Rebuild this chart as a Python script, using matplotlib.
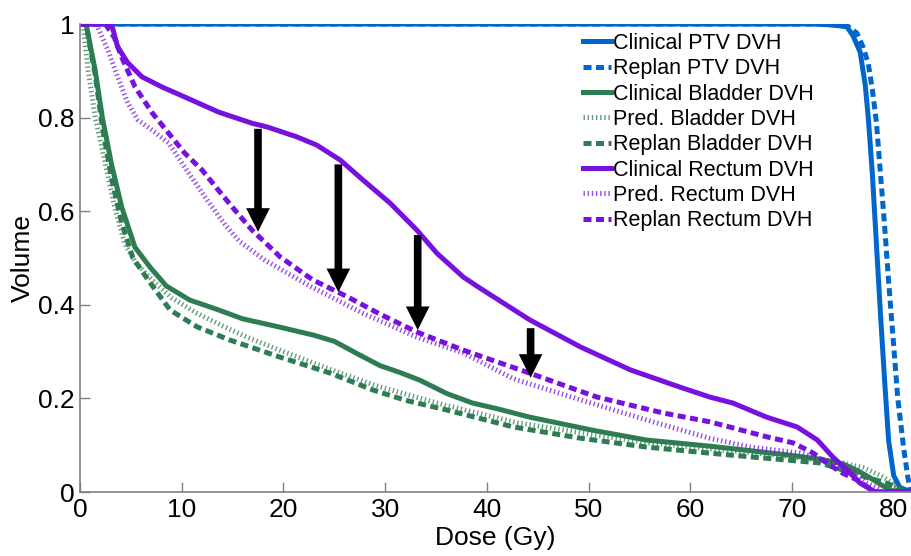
import matplotlib
matplotlib.use("Agg")
import matplotlib.pyplot as plt

ptv_clin_dose = [0, 72, 74, 75.4, 76.0, 76.7, 77.2, 77.5, 77.9, 78.3, 78.7, 79.1, 79.5, 80.0, 80.6, 81.7]
ptv_clin_vol = [1, 1, 0.998, 0.994, 0.975, 0.94, 0.87, 0.80, 0.68, 0.53, 0.38, 0.24, 0.11, 0.035, 0.01, 0]

ptv_replan_dose = [0, 73, 75.5, 76.4, 77.0, 77.5, 77.9, 78.3, 78.7, 79.1, 79.5, 79.9, 80.4, 81.0, 81.4, 81.7]
ptv_replan_vol = [1, 1, 0.995, 0.98, 0.95, 0.915, 0.86, 0.79, 0.68, 0.57, 0.45, 0.34, 0.20, 0.09, 0.03, 0]

bl_clin_dose = [0, 0.6, 1.5, 2.2, 3.1, 4.1, 5.4, 6.9, 8.5, 10.8, 13.5, 16.0, 19.7, 23.0, 25.0, 27.3,
                29.5, 31.5, 33.4, 36.1, 38.6, 41, 44.2, 50.4, 55.7, 61.9, 66, 70, 72.8, 75, 76.5,
                77.7, 78.8, 79.8, 81.7]
bl_clin_vol = [1, 1, 0.9, 0.80, 0.70, 0.609, 0.523, 0.48, 0.44, 0.41, 0.39, 0.37, 0.352, 0.335, 0.322,
               0.295, 0.27, 0.255, 0.239, 0.21, 0.19, 0.178, 0.16, 0.132, 0.111, 0.098, 0.088, 0.078,
               0.07, 0.06, 0.045, 0.03, 0.015, 0.003, 0]

bl_pred_dose = [0, 0.3, 0.8, 1.5, 2.5, 3.4, 4.4, 5.5, 7, 9, 11.5, 14, 16.4, 20, 24.6, 29, 33, 36, 43,
                50, 56, 62, 68, 72, 75, 77, 79, 80.5, 81.7]
bl_pred_vol = [1, 1, 0.9, 0.8, 0.7, 0.609, 0.53, 0.49, 0.455, 0.415, 0.382, 0.355, 0.331, 0.3, 0.262,
               0.228, 0.203, 0.185, 0.148, 0.124, 0.105, 0.092, 0.08, 0.07, 0.062, 0.052, 0.032, 0.008, 0]

bl_replan_dose = [0, 0.6, 1.5, 2.2, 3.1, 4.1, 5.2, 6.9, 8.85, 11.5, 14.7, 19.7, 24.6, 28.8, 32, 36.1,
                  42.6, 49.2, 55.7, 61.9, 67, 72.8, 76, 79.3, 80.8, 81.7]
bl_replan_vol = [1, 1, 0.89, 0.78, 0.67, 0.575, 0.50, 0.447, 0.389, 0.353, 0.325, 0.288, 0.254, 0.218,
                 0.196, 0.175, 0.139, 0.115, 0.096, 0.083, 0.073, 0.062, 0.04, 0.019, 0.005, 0]

re_clin_dose = [0, 3.1, 3.7, 4.7, 6.1, 8.1, 10.3, 13.6, 16.9, 18.4, 21.3, 23.3, 25.6, 27.8, 30.5, 33.1,
                35.1, 37.7, 39.3, 44.2, 49.2, 54.1, 59.0, 61.9, 64.2, 67.5, 70.5, 72.5, 74.0, 75.4,
                76.7, 77.7, 78.2, 81.7]
re_clin_vol = [1, 1, 0.951, 0.917, 0.887, 0.865, 0.844, 0.812, 0.788, 0.78, 0.759, 0.741, 0.709, 0.667,
               0.617, 0.56, 0.51, 0.459, 0.436, 0.368, 0.31, 0.261, 0.224, 0.203, 0.19, 0.16, 0.139,
               0.111, 0.075, 0.047, 0.019, 0.006, 0, 0]

re_pred_dose = [0, 1.6, 2.75, 3.7, 4.7, 5.7, 7.1, 8.7, 10.3, 12.3, 14.3, 15.7, 18.2, 22.6, 27.8, 33.1,
                37.7, 42.6, 49.2, 55.7, 61.9, 65.9, 70.8, 74.0, 75.7, 77.4, 78.4, 79, 81.7]
re_pred_vol = [1, 1, 0.944, 0.887, 0.831, 0.795, 0.773, 0.746, 0.694, 0.63, 0.57, 0.535, 0.495, 0.44,
               0.382, 0.331, 0.297, 0.242, 0.197, 0.154, 0.115, 0.096, 0.083, 0.064, 0.047, 0.019,
               0.008, 0, 0]

re_replan_dose = [0, 2.5, 3.4, 4.1, 5.4, 7.1, 8.7, 10.3, 12.0, 13.6, 15.2, 16.9, 19.7, 22.9, 26.3, 29.5,
                  33.1, 37.7, 44.2, 50.8, 57.3, 61.9, 64.2, 67.5, 70.1, 72.1, 73.4, 75.0, 76.4, 77.4,
                  78.2, 81.7]
re_replan_vol = [1, 1, 0.97, 0.929, 0.866, 0.81, 0.767, 0.724, 0.688, 0.645, 0.603, 0.56, 0.502, 0.453,
                 0.417, 0.38, 0.342, 0.303, 0.254, 0.203, 0.169, 0.15, 0.137, 0.118, 0.105, 0.083,
                 0.062, 0.04, 0.026, 0.011, 0, 0]

# arrows: clinical -> replan rectum
arrow_dose = [17.5, 25.4, 33.2, 44.3]
arrow_top = [0.776, 0.70, 0.549, 0.35]
arrow_tip = [0.556, 0.427, 0.346, 0.244]

blue, green, purple = "#0066cc", "#2e7d52", "#7711dd"
solid = "-"
dashed = (0, (1.6, 0.9))
dotted = (0, (0.28, 0.55))

plt.rcParams["font.family"] = ["Liberation Sans", "DejaVu Sans"]
fig = plt.figure(figsize=(9.11, 5.56), dpi=100)
ax = fig.add_axes([80 / 911, 64 / 556, 831 / 911, 468 / 556])

ax.plot(ptv_clin_dose, ptv_clin_vol, color=blue, lw=3.6, ls=solid, label="Clinical PTV DVH")
ax.plot(ptv_replan_dose, ptv_replan_vol, color=blue, lw=3.6, ls=dashed, label="Replan PTV DVH")
ax.plot(bl_clin_dose, bl_clin_vol, color=green, lw=3.6, ls=solid, label="Clinical Bladder DVH")
ax.plot(bl_pred_dose, bl_pred_vol, color=green, lw=3.6, ls=dotted, alpha=0.75,
        label="Pred. Bladder DVH")
ax.plot(bl_replan_dose, bl_replan_vol, color=green, lw=3.6, ls=dashed, label="Replan Bladder DVH")
ax.plot(re_clin_dose, re_clin_vol, color=purple, lw=3.6, ls=solid, label="Clinical Rectum DVH")
ax.plot(re_pred_dose, re_pred_vol, color=purple, lw=3.6, ls=dotted, alpha=0.75,
        label="Pred. Rectum DVH")
ax.plot(re_replan_dose, re_replan_vol, color=purple, lw=3.6, ls=dashed, label="Replan Rectum DVH")

for x, y0, y1 in zip(arrow_dose, arrow_top, arrow_tip):
    ax.annotate("", xy=(x, y1), xytext=(x, y0),
                arrowprops=dict(facecolor="black", edgecolor="none", width=5.5,
                                headwidth=17, headlength=17, shrink=0))

ax.set_xlim(0, 81.7)
ax.set_ylim(0, 1)
ax.set_xticks([0, 10, 20, 30, 40, 50, 60, 70, 80])
ax.set_yticks([0, 0.2, 0.4, 0.6, 0.8, 1])
ax.set_yticklabels(["0", "0.2", "0.4", "0.6", "0.8", "1"])
ax.tick_params(direction="in", length=7, width=1, color="#808080", labelsize=19, pad=4)
for s in ("top", "right"):
    ax.spines[s].set_visible(False)
for s in ("left", "bottom"):
    ax.spines[s].set_color("#808080")
    ax.spines[s].set_linewidth(1.2)
ax.set_xlabel("Dose (Gy)", fontsize=19, labelpad=3)
ax.set_ylabel("Volume", fontsize=19, labelpad=2)

ax.legend(loc="upper left", bbox_to_anchor=(583 / 911, 523 / 556), bbox_transform=fig.transFigure,
          frameon=False, fontsize=15.5, handlelength=1.3, handletextpad=0.1, labelspacing=0.2,
          borderpad=0, borderaxespad=0)

fig.savefig("out.png", dpi=100)
